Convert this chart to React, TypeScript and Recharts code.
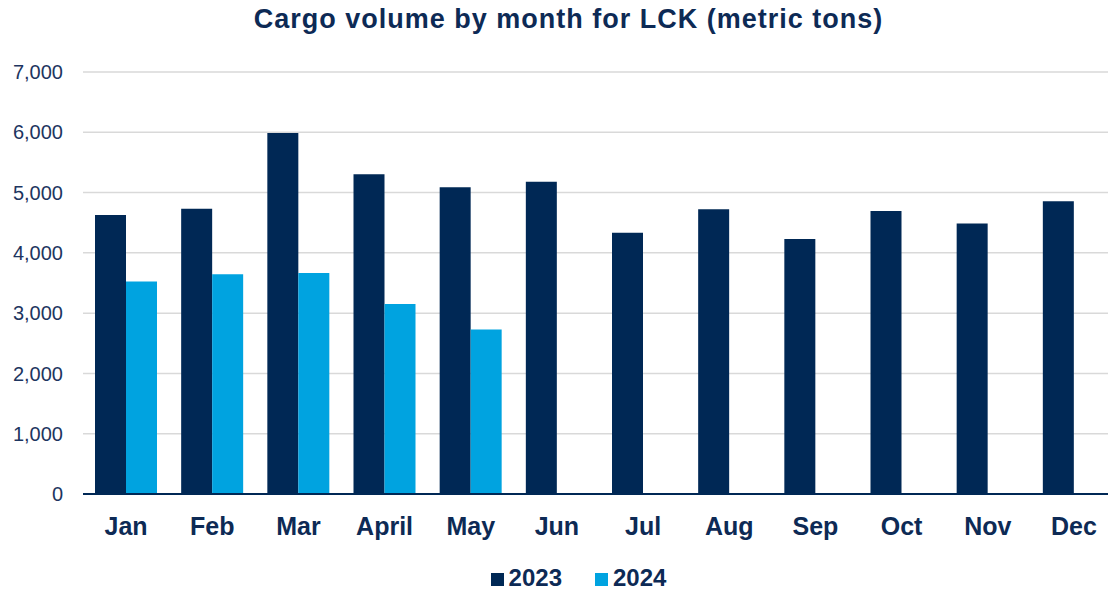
import { BarChart, Bar, XAxis, YAxis, CartesianGrid, Legend } from 'recharts';

const MONTHS = ['Jan', 'Feb', 'Mar', 'April', 'May', 'Jun', 'Jul', 'Aug', 'Sep', 'Oct', 'Nov', 'Dec'];
const VOL_2023 = [4630, 4730, 5990, 5305, 5090, 5180, 4335, 4725, 4230, 4695, 4485, 4855];
const VOL_2024: (number | null)[] = [3525, 3645, 3665, 3150, 2730, null, null, null, null, null, null, null];
const Y_TICKS = [0, 1000, 2000, 3000, 4000, 5000, 6000, 7000];

const NAVY = '#002855';
const BLUE = '#00A3E0';
const TEXT = '#0d2a55';
const FONT = '"Liberation Sans", Arial, sans-serif';

const NUM = new Intl.NumberFormat('en-US');

const data = MONTHS.map((m, i) => ({
  month: m,
  y2023: VOL_2023[i],
  y2024: VOL_2024[i],
}));

function LegendBox({ payload }: any) {
  return (
    <div
      style={{
        height: 46,
        display: 'flex',
        justifyContent: 'center',
        alignItems: 'flex-end',
        paddingLeft: 40,
        fontFamily: FONT,
      }}
    >
      {(payload || []).map((p: any, i: number) => (
        <div
          key={p.value}
          style={{
            display: 'flex',
            alignItems: 'center',
            height: 24,
            marginLeft: i === 0 ? 0 : 33,
          }}
        >
          <span style={{ width: 13, height: 13, background: p.color, marginRight: 5, marginTop: 3 }} />
          <span style={{ fontSize: 24, lineHeight: '24px', fontWeight: 700, color: TEXT }}>{p.value}</span>
        </div>
      ))}
    </div>
  );
}

export default function App() {
  return (
    <div
      style={{
        position: 'absolute',
        left: 0,
        top: 0,
        width: 1108,
        height: 590,
        overflow: 'hidden',
        background: '#fff',
        fontFamily: FONT,
      }}
    >
      <div
        style={{
          position: 'absolute',
          left: 0,
          top: 6,
          width: 1137,
          textAlign: 'center',
          fontSize: 27,
          lineHeight: '27px',
          fontWeight: 700,
          letterSpacing: 1,
          color: TEXT,
        }}
      >
        Cargo volume by month for LCK (metric tons)
      </div>
      <BarChart
        width={1120}
        height={590}
        data={data}
        margin={{ top: 72, right: 3, left: 0, bottom: 0 }}
        barCategoryGap={12}
        barGap={0}
      >
        <CartesianGrid vertical={false} stroke="#d9d9d9" strokeWidth={1.5} />
        <XAxis
          dataKey="month"
          height={50}
          tickLine={false}
          tickSize={0}
          tickMargin={23}
          axisLine={{ stroke: NAVY, strokeWidth: 2 }}
          tick={{ fontSize: 25, fontWeight: 700, fill: TEXT, fontFamily: FONT }}
          interval={0}
        />
        <YAxis
          width={83}
          domain={[0, 7000]}
          ticks={Y_TICKS}
          axisLine={false}
          tickLine={false}
          tickSize={0}
          tickMargin={20}
          tickFormatter={(v) => NUM.format(v as number)}
          tick={{ fontSize: 20, fill: '#1d3560', fontFamily: FONT }}
        />
        <Legend verticalAlign="bottom" content={<LegendBox />} />
        <Bar dataKey="y2023" name="2023" fill={NAVY} isAnimationActive={false} />
        <Bar dataKey="y2024" name="2024" fill={BLUE} isAnimationActive={false} />
      </BarChart>
    </div>
  );
}
